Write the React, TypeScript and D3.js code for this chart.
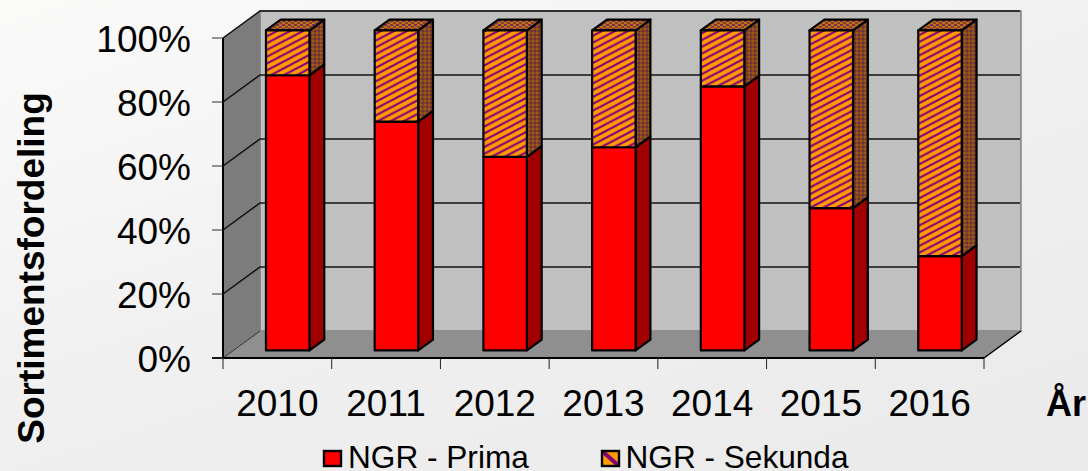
import React from "react";
import * as d3 from "d3";

const years = ["2010", "2011", "2012", "2013", "2014", "2015", "2016"];
const prima = [86, 71.5, 60.5, 63.5, 82.5, 44.5, 29.5];
const sekunda = [14, 28.5, 39.5, 36.5, 17.5, 55.5, 70.5];
const yTicks = [0, 20, 40, 60, 80, 100];
const seriesNames = ["NGR - Prima", "NGR - Sekunda"];

const FONT = "'Liberation Sans', Arial, sans-serif";
const W = 1088, H = 471;
const x0 = 223, x1 = 984, yBase = 358, yTop = 38;
const depthX = 37, depthY = -27;
const barDepthStart = 0.28, barDepthEnd = 0.68;
const x = d3.scaleBand<string>().domain(years).range([x0, x1]).paddingInner(0.6).paddingOuter(0.3);
const xTickScale = d3.scaleLinear().domain([0, years.length]).range([x0, x1]);
const y = d3.scaleLinear().domain([0, 100]).range([yBase, yTop]);

const pts = (p: number[][]) => p.map((a) => a.join(",")).join(" ");

function Bar3D({ xf, w, from, to, front, side, top }: any) {
  const dx = depthX * barDepthStart, dy = depthY * barDepthStart;
  const ddx = depthX * (barDepthEnd - barDepthStart), ddy = depthY * (barDepthEnd - barDepthStart);
  const l = xf + dx, r = l + w, yb = y(from) + dy, yt = y(to) + dy;
  return (
    <g stroke="#000" strokeWidth={2.2} strokeLinejoin="round">
      <polygon points={pts([[r, yb], [r + ddx, yb + ddy], [r + ddx, yt + ddy], [r, yt]])} fill={side} />
      {top && <polygon points={pts([[l, yt], [l + ddx, yt + ddy], [r + ddx, yt + ddy], [r, yt]])} fill={top} />}
      <rect x={l} y={yt} width={w} height={yb - yt} fill={front} />
    </g>
  );
}

export default function App() {
  const w = x.bandwidth();
  return (
    <svg width={W} height={H} viewBox={`0 0 ${W} ${H}`} style={{ position: "absolute", left: 0, top: 0 }} fontFamily={FONT}>
      <defs>
        <linearGradient id="bg" x1="0" y1="0" x2="0.75" y2="1">
          <stop offset="0" stopColor="#fafbf9" />
          <stop offset="0.55" stopColor="#f0f0f0" />
          <stop offset="1" stopColor="#ebebeb" />
        </linearGradient>
        <pattern id="stripe" width="13" height="6.8" patternUnits="userSpaceOnUse" patternTransform="translate(266 30)">
          <rect width="13" height="6.8" fill="#ff9900" />
          <path d="M0,6.8 L13,0 M-6.5,3.4 L6.5,-3.4 M6.5,10.2 L19.5,3.4" stroke="#800080" strokeWidth="2" fill="none" />
        </pattern>
        <pattern id="fine" width="4" height="4" patternUnits="userSpaceOnUse">
          <rect width="4" height="4" fill="#84451f" />
          <rect width="2" height="2" fill="#9c5a18" />
          <rect x="2" y="2" width="2" height="2" fill="#6c3040" />
        </pattern>
        <pattern id="topFine" width="6" height="4" patternUnits="userSpaceOnUse">
          <rect width="6" height="4" fill="#c0720f" />
          <rect width="3" height="2" fill="#7a2c60" />
          <rect x="3" y="2" width="3" height="2" fill="#844030" />
        </pattern>
        <pattern id="legendP" width="17" height="15" patternUnits="userSpaceOnUse" patternTransform="translate(602 451)">
          <rect width="17" height="15" fill="#ff9900" />
          <path d="M0,0 L17,15" stroke="#800080" strokeWidth="4" />
        </pattern>
      </defs>
      <rect width={W} height={H} fill="url(#bg)" />

      {/* walls */}
      <polygon points={pts([[x0 + depthX, yTop + depthY], [x1 + depthX, yTop + depthY], [x1 + depthX, yBase + depthY], [x0 + depthX, yBase + depthY]])} fill="#c0c0c0" stroke="#808080" strokeWidth={1.5} />
      <polygon points={pts([[x0, yTop], [x0 + depthX, yTop + depthY], [x0 + depthX, yBase + depthY], [x0, yBase]])} fill="#7c7c7c" stroke="#808080" strokeWidth={1} />
      <polygon points={pts([[x0, yBase], [x0 + depthX, yBase + depthY], [x1 + depthX, yBase + depthY], [x1, yBase]])} fill="#8f8f8f" />

      {/* gridlines */}
      {yTicks.slice(1).map((t) => (
        <polyline key={t} points={pts([[x0, y(t)], [x0 + depthX, y(t) + depthY], [x1 + depthX - 1, y(t) + depthY]])} fill="none" stroke="#000" strokeWidth={1.5} opacity={0.9} />
      ))}
      <line x1={x0} y1={yBase} x2={x0 + depthX} y2={yBase + depthY} stroke="#333" strokeWidth={1} />
      <line x1={x1} y1={yBase} x2={x1 + depthX} y2={yBase + depthY} stroke="#000" strokeWidth={1.5} />

      {/* axes */}
      <line x1={x0} y1={yTop} x2={x0} y2={yBase} stroke="#000" strokeWidth={2} />
      <line x1={x0 - 11} y1={yBase} x2={x1} y2={yBase} stroke="#000" strokeWidth={2} />
      {yTicks.map((t) => (
        <g key={t}>
          <line x1={x0 - 11} y1={y(t)} x2={x0} y2={y(t)} stroke="#333" strokeWidth={1} />
          <text x={191} y={y(t)} dy={13.5} textAnchor="end" fontSize={37} fill="#000">{t}%</text>
        </g>
      ))}
      {d3.range(years.length + 1).map((i) => (
        <line key={i} x1={xTickScale(i)} y1={yBase} x2={xTickScale(i)} y2={yBase + 11} stroke="#222" strokeWidth={1} />
      ))}

      {/* bars */}
      {years.map((yr, i) => (
        <g key={yr}>
          <Bar3D xf={x(yr)} w={w} from={0} to={prima[i]} front="#ff0000" side="#a00000" />
          <Bar3D xf={x(yr)} w={w} from={prima[i]} to={prima[i] + sekunda[i]} front="url(#stripe)" side="url(#fine)" top="url(#topFine)" />
        </g>
      ))}

      {/* category labels */}
      {years.map((yr, i) => (
        <text key={yr} x={(xTickScale(i) + xTickScale(i + 1)) / 2} y={416} textAnchor="middle" fontSize={37} fill="#000">{yr}</text>
      ))}
      <text x={1046} y={416} fontSize={36} fontWeight="bold" fill="#000">År</text>
      <text transform="translate(43.5,268) rotate(-90)" textAnchor="middle" fontSize={37} fontWeight="bold" fill="#000">Sortimentsfordeling</text>

      {/* legend */}
      <rect x={324} y={451} width={17} height={15} fill="#ff0000" stroke="#000" strokeWidth={2.4} />
      <text x={348} y={467.5} fontSize={31.6} fill="#000">{seriesNames[0]}</text>
      <rect x={602} y={451} width={17} height={15} fill="url(#legendP)" stroke="#000" strokeWidth={2.4} />
      <text x={625.5} y={467.5} fontSize={31.6} fill="#000">{seriesNames[1]}</text>
    </svg>
  );
}
